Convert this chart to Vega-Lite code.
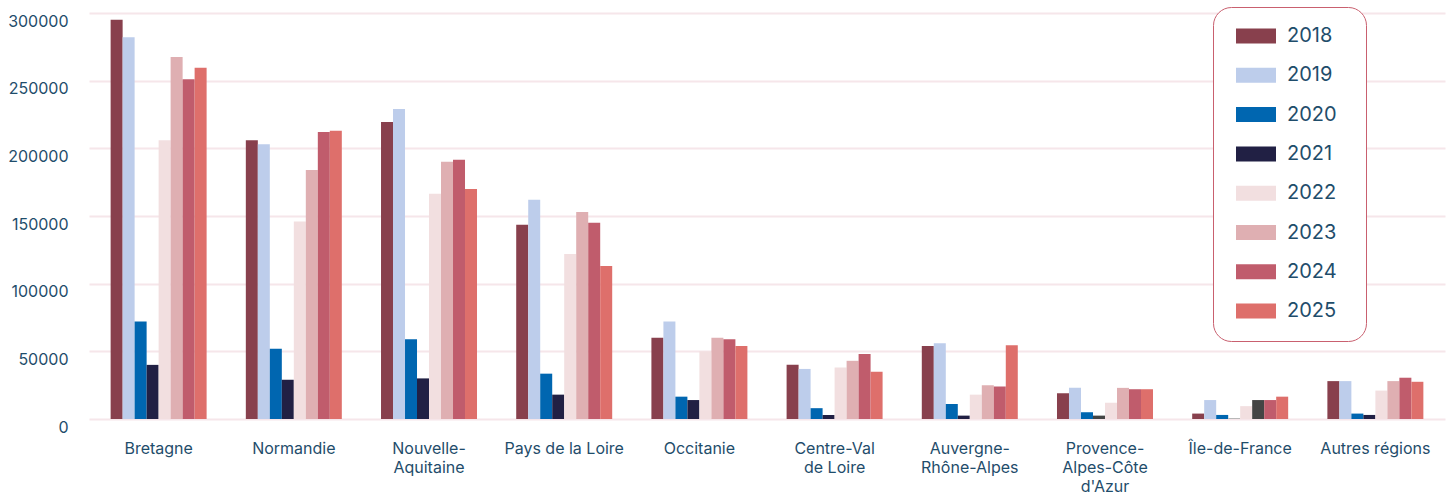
{
  "$schema": "https://vega.github.io/schema/vega-lite/v6.json",
  "width": 1356,
  "height": 406,
  "autosize": {"type": "none"},
  "padding": {"left": 89, "top": 13, "right": 8, "bottom": 75},
  "background": "white",
  "config": {"view": {"stroke": null}, "font": "Inter"},
  "data": {
    "values": [
      {"region": "Bretagne", "year": "2018", "value": 295000},
      {"region": "Bretagne", "year": "2019", "value": 282000},
      {"region": "Bretagne", "year": "2020", "value": 72000},
      {"region": "Bretagne", "year": "2021", "value": 40000},
      {"region": "Bretagne", "year": "2022", "value": 206000},
      {"region": "Bretagne", "year": "2023", "value": 267500},
      {"region": "Bretagne", "year": "2024", "value": 251000},
      {"region": "Bretagne", "year": "2025", "value": 259500},
      {"region": "Normandie", "year": "2018", "value": 206000},
      {"region": "Normandie", "year": "2019", "value": 203000},
      {"region": "Normandie", "year": "2020", "value": 52000},
      {"region": "Normandie", "year": "2021", "value": 29000},
      {"region": "Normandie", "year": "2022", "value": 146000},
      {"region": "Normandie", "year": "2023", "value": 184000},
      {"region": "Normandie", "year": "2024", "value": 212000},
      {"region": "Normandie", "year": "2025", "value": 213000},
      {"region": "Nouvelle-Aquitaine", "year": "2018", "value": 219500},
      {"region": "Nouvelle-Aquitaine", "year": "2019", "value": 229000},
      {"region": "Nouvelle-Aquitaine", "year": "2020", "value": 59000},
      {"region": "Nouvelle-Aquitaine", "year": "2021", "value": 30000},
      {"region": "Nouvelle-Aquitaine", "year": "2022", "value": 166500},
      {"region": "Nouvelle-Aquitaine", "year": "2023", "value": 190000},
      {"region": "Nouvelle-Aquitaine", "year": "2024", "value": 191500},
      {"region": "Nouvelle-Aquitaine", "year": "2025", "value": 170000},
      {"region": "Pays de la Loire", "year": "2018", "value": 143500},
      {"region": "Pays de la Loire", "year": "2019", "value": 162000},
      {"region": "Pays de la Loire", "year": "2020", "value": 33500},
      {"region": "Pays de la Loire", "year": "2021", "value": 18000},
      {"region": "Pays de la Loire", "year": "2022", "value": 122000},
      {"region": "Pays de la Loire", "year": "2023", "value": 153000},
      {"region": "Pays de la Loire", "year": "2024", "value": 145000},
      {"region": "Pays de la Loire", "year": "2025", "value": 113000},
      {"region": "Occitanie", "year": "2018", "value": 60000},
      {"region": "Occitanie", "year": "2019", "value": 72000},
      {"region": "Occitanie", "year": "2020", "value": 16500},
      {"region": "Occitanie", "year": "2021", "value": 14000},
      {"region": "Occitanie", "year": "2022", "value": 50000},
      {"region": "Occitanie", "year": "2023", "value": 60000},
      {"region": "Occitanie", "year": "2024", "value": 59000},
      {"region": "Occitanie", "year": "2025", "value": 54000},
      {"region": "Centre-Val de Loire", "year": "2018", "value": 40000},
      {"region": "Centre-Val de Loire", "year": "2019", "value": 37000},
      {"region": "Centre-Val de Loire", "year": "2020", "value": 8000},
      {"region": "Centre-Val de Loire", "year": "2021", "value": 3000},
      {"region": "Centre-Val de Loire", "year": "2022", "value": 38000},
      {"region": "Centre-Val de Loire", "year": "2023", "value": 43000},
      {"region": "Centre-Val de Loire", "year": "2024", "value": 48000},
      {"region": "Centre-Val de Loire", "year": "2025", "value": 35000},
      {"region": "Auvergne-Rhône-Alpes", "year": "2018", "value": 54000},
      {"region": "Auvergne-Rhône-Alpes", "year": "2019", "value": 56000},
      {"region": "Auvergne-Rhône-Alpes", "year": "2020", "value": 11000},
      {"region": "Auvergne-Rhône-Alpes", "year": "2021", "value": 2500},
      {"region": "Auvergne-Rhône-Alpes", "year": "2022", "value": 18000},
      {"region": "Auvergne-Rhône-Alpes", "year": "2023", "value": 25000},
      {"region": "Auvergne-Rhône-Alpes", "year": "2024", "value": 24000},
      {"region": "Auvergne-Rhône-Alpes", "year": "2025", "value": 54500},
      {"region": "Provence-Alpes-Côte d'Azur", "year": "2018", "value": 19000},
      {"region": "Provence-Alpes-Côte d'Azur", "year": "2019", "value": 23000},
      {"region": "Provence-Alpes-Côte d'Azur", "year": "2020", "value": 5000},
      {"region": "Provence-Alpes-Côte d'Azur", "year": "2021", "value": 2500},
      {"region": "Provence-Alpes-Côte d'Azur", "year": "2022", "value": 12000},
      {"region": "Provence-Alpes-Côte d'Azur", "year": "2023", "value": 23000},
      {"region": "Provence-Alpes-Côte d'Azur", "year": "2024", "value": 22000},
      {"region": "Provence-Alpes-Côte d'Azur", "year": "2025", "value": 22000},
      {"region": "Île-de-France", "year": "2018", "value": 4000},
      {"region": "Île-de-France", "year": "2019", "value": 14000},
      {"region": "Île-de-France", "year": "2020", "value": 3000},
      {"region": "Île-de-France", "year": "2021", "value": 700},
      {"region": "Île-de-France", "year": "2022", "value": 9500},
      {"region": "Île-de-France", "year": "2023", "value": 14000},
      {"region": "Île-de-France", "year": "2024", "value": 14000},
      {"region": "Île-de-France", "year": "2025", "value": 16500},
      {"region": "Autres régions", "year": "2018", "value": 28000},
      {"region": "Autres régions", "year": "2019", "value": 28000},
      {"region": "Autres régions", "year": "2020", "value": 4000},
      {"region": "Autres régions", "year": "2021", "value": 3000},
      {"region": "Autres régions", "year": "2022", "value": 21000},
      {"region": "Autres régions", "year": "2023", "value": 28000},
      {"region": "Autres régions", "year": "2024", "value": 30500},
      {"region": "Autres régions", "year": "2025", "value": 27500}
    ]
  },
  "mark": {"type": "bar"},
  "encoding": {
    "x": {
      "field": "region",
      "type": "nominal",
      "sort": ["Bretagne", "Normandie", "Nouvelle-Aquitaine", "Pays de la Loire", "Occitanie", "Centre-Val de Loire", "Auvergne-Rhône-Alpes", "Provence-Alpes-Côte d'Azur", "Île-de-France", "Autres régions"],
      "scale": {"paddingInner": 0.29, "paddingOuter": 0.16},
      "axis": {
        "title": null,
        "labelAngle": 0,
        "domain": false,
        "ticks": false,
        "grid": false,
        "labelPadding": 21,
        "labelFontSize": 16,
        "labelColor": "#1f4d6b",
        "labelLineHeight": 19,
        "labelBaseline": "top",
        "labelExpr": "datum.value === 'Nouvelle-Aquitaine' ? ['Nouvelle-', 'Aquitaine'] : datum.value === 'Centre-Val de Loire' ? ['Centre-Val', 'de Loire'] : datum.value === 'Auvergne-Rhône-Alpes' ? ['Auvergne-', 'Rhône-Alpes'] : datum.value === \"Provence-Alpes-Côte d'Azur\" ? ['Provence-', 'Alpes-Côte', \"d'Azur\"] : datum.value"
      }
    },
    "xOffset": {
      "field": "year",
      "type": "nominal",
      "scale": {"paddingInner": 0, "paddingOuter": 0}
    },
    "y": {
      "field": "value",
      "type": "quantitative",
      "scale": {"domain": [0, 300000], "nice": false},
      "axis": {
        "title": null,
        "values": [0, 50000, 100000, 150000, 200000, 250000, 300000],
        "format": "d",
        "domain": false,
        "ticks": false,
        "gridColor": "#f6e6ea",
        "gridWidth": 2,
        "labelFontSize": 16,
        "labelColor": "#1f4d6b",
        "labelPadding": 21,
        "labelOffset": 8
      }
    },
    "color": {
      "field": "year",
      "type": "nominal",
      "scale": {
        "domain": ["2018", "2019", "2020", "2021", "2022", "2023", "2024", "2025"],
        "range": ["#88404d", "#bdcdeb", "#0066b0", "#212044", "#f2dfe0", "#dfafb2", "#c05c6c", "#de6f6b"]
      },
      "condition": [
        {"test": "datum.region === \"Provence-Alpes-Côte d'Azur\" && datum.year === '2021'", "value": "#444444"},
        {"test": "datum.region === 'Île-de-France' && datum.year === '2021'", "value": "#b4b4b4"},
        {"test": "datum.region === 'Île-de-France' && datum.year === '2023'", "value": "#444444"}
      ],
      "legend": {
        "orient": "none",
        "legendX": 1124,
        "legendY": -6,
        "title": "\u00a0",
        "titleOrient": "right",
        "titlePadding": 10,
        "titleFontSize": 6,
        "symbolType": "M-0.6,-0.75H3.4V0.75H-0.6Z",
        "symbolSize": 400,
        "symbolStrokeWidth": 0,
        "symbolOpacity": 1,
        "labelFontSize": 20,
        "labelColor": "#1f4d6b",
        "labelOffset": 35,
        "rowPadding": 19.3,
        "padding": 19,
        "strokeColor": "#c9606f",
        "cornerRadius": 18,
        "fillColor": "white"
      }
    }
  }
}
